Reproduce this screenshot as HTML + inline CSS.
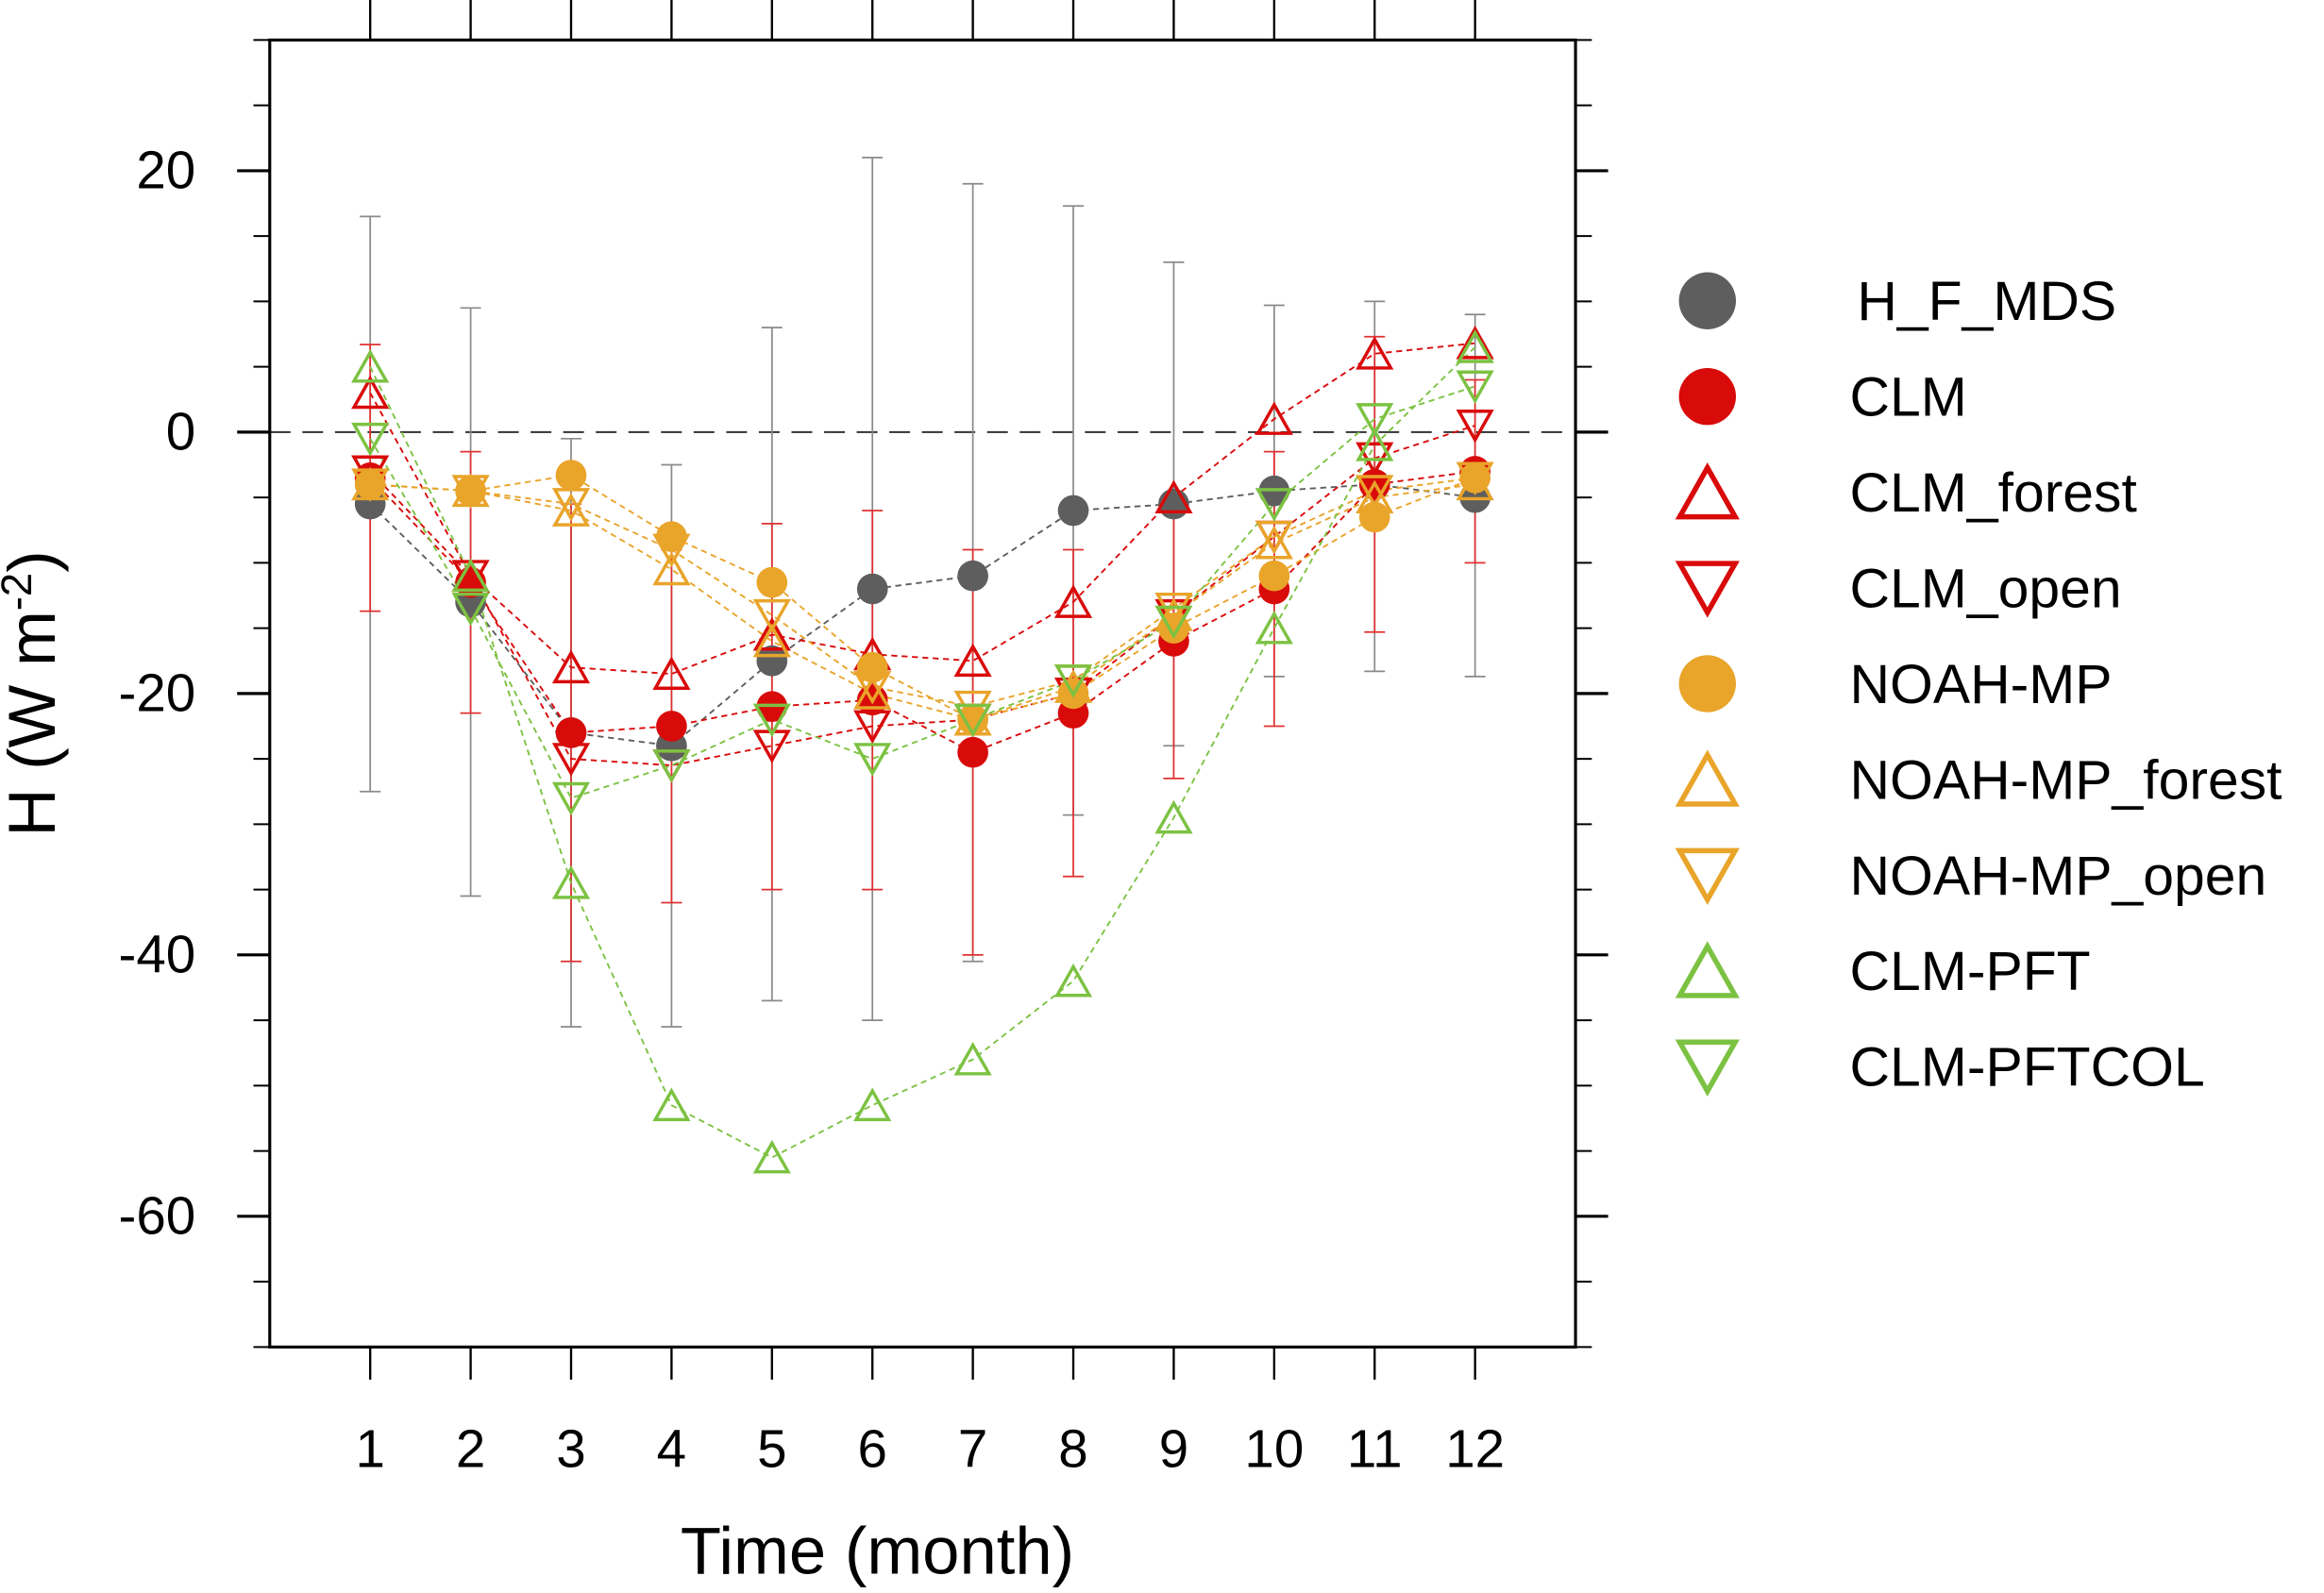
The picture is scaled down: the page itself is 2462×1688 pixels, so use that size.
<!DOCTYPE html>
<html><head><meta charset="utf-8">
<style>
html,body{margin:0;padding:0;background:#fff;}
svg{display:block;font-family:"Liberation Sans",sans-serif;}
</style></head>
<body>
<svg id="chart" width="2462" height="1688" viewBox="0 0 1568 1075" preserveAspectRatio="none" xmlns="http://www.w3.org/2000/svg">
<rect width="1568" height="1075" fill="#fff"/>
</svg>
<script>
const months = [1,2,3,4,5,6,7,8,9,10,11,12];
const yTicks = [20,0,-20,-40,-60];
const obsMean = [-5.5,-13,-23,-24,-17.5,-12,-11,-6,-5.5,-4.5,-4,-5];
const obsHi = [16.5,9.5,-0.5,-2.5,8,21,19,17.3,13,9.7,10,9];
const obsLo = [-27.5,-35.5,-45.5,-45.5,-43.5,-45,-40.5,-29.3,-24,-18.7,-18.3,-18.7];
const clm = [-3.5,-11.5,-23,-22.5,-21,-20.5,-24.5,-21.5,-16,-12,-4,-3];
const clmSd = [10.2,10,17.5,13.5,14,14.5,15.5,12.5,10.5,10.5,11.3,7];
const clmForest = [3,-11,-18,-18.5,-15.5,-17,-17.5,-13,-5,1,6,6.8];
const clmOpen = [-3,-11,-25,-25.5,-24,-22.5,-22,-20,-14,-8,-2,0.5];
const noah = [-4,-4.5,-3.3,-8,-11.5,-18,-22,-20,-15,-11,-6.5,-3.5];
const noahForest = [-4,-4.5,-6,-10.5,-16,-20,-22,-19.5,-14,-8.5,-5,-4];
const noahOpen = [-4,-4.5,-5.5,-9,-14,-19.5,-21,-19,-13.5,-8,-4.5,-3.5];
const pft = [5,-11,-34.5,-51.5,-55.5,-51.5,-48,-42,-29.5,-15,-1,6.5];
const pftcol = [-0.5,-13.5,-28,-25.5,-22,-25,-22,-19,-14.5,-5.5,1,3.5];

const L=182,R=1063,T=27,B=909,XMIN=0,XMAX=13,YMIN=-70,YMAX=30;
const sx=v=>L+(v-XMIN)/(XMAX-XMIN)*(R-L);
const sy=v=>T+(YMAX-v)/(YMAX-YMIN)*(B-T);
const svg=document.getElementById('chart');
const NS='http://www.w3.org/2000/svg';
function mk(tag,attrs,parent){const e=document.createElementNS(NS,tag);for(const k in attrs)e.setAttribute(k,attrs[k]);(parent||svg).appendChild(e);return e;}

const GRAY='#5e5e5e',RED='#d90a0a',ORANGE='#e9a42a',GREEN='#7cc242';

let z=mk('line',{x1:L,x2:R,y1:sy(0),y2:sy(0),stroke:'#333','stroke-width':1.3,'stroke-dasharray':'14 8'});



function errbar(x,hi,lo,color,name){
  const g=mk('g',{stroke:color,'stroke-width':1.1});
  
  
  mk('line',{x1:sx(x),x2:sx(x),y1:sy(hi),y2:sy(lo)},g);
  mk('line',{x1:sx(x)-7,x2:sx(x)+7,y1:sy(hi),y2:sy(hi)},g);
  mk('line',{x1:sx(x)-7,x2:sx(x)+7,y1:sy(lo),y2:sy(lo)},g);
}
months.forEach((m,i)=>errbar(m,obsHi[i],obsLo[i],'#8a8a8a','obs-error-bar'));
months.forEach((m,i)=>errbar(m,clm[i]+clmSd[i],clm[i]-clmSd[i],'#e03030','clm-error-bar'));

const series=[
 {name:'H_F_MDS',vals:obsMean,color:GRAY,shape:'dot'},
 {name:'CLM',vals:clm,color:RED,shape:'dot'},
 {name:'CLM_forest',vals:clmForest,color:RED,shape:'up'},
 {name:'CLM_open',vals:clmOpen,color:RED,shape:'down'},
 {name:'NOAH-MP',vals:noah,color:ORANGE,shape:'dot'},
 {name:'NOAH-MP_forest',vals:noahForest,color:ORANGE,shape:'up'},
 {name:'NOAH-MP_open',vals:noahOpen,color:ORANGE,shape:'down'},
 {name:'CLM-PFT',vals:pft,color:GREEN,shape:'up'},
 {name:'CLM-PFTCOL',vals:pftcol,color:GREEN,shape:'down'}
];
function marker(shape,x,y,s,color,parent,sw){
  if(shape==='dot') return mk('circle',{cx:x,cy:y,r:s*0.52,fill:color},parent);
  const w=s*0.52,h=s*0.46;
  const pts=shape==='up'?`${x},${y-h} ${x+w},${y+h} ${x-w},${y+h}`:`${x},${y+h} ${x+w},${y-h} ${x-w},${y-h}`;
  return mk('polygon',{points:pts,fill:'none',stroke:color,'stroke-width':sw},parent);
}
series.forEach(s=>{
  const key=s.name.toLowerCase().replace(/_/g,'-');
  const p=mk('polyline',{points:months.map((m,i)=>sx(m)+','+sy(s.vals[i])).join(' '),fill:'none',stroke:s.color,'stroke-width':1.2,'stroke-dasharray':'4 3'});
  
  
});
series.forEach(s=>{
  const key=s.name.toLowerCase().replace(/_/g,'-');
  const g=mk('g',{});
  
  
  months.forEach((m,i)=>{
    const e=marker(s.shape,sx(m),sy(s.vals[i]),s.shape==='dot'?20:21,s.color,g,2.2);
    
    
  });
});

const fr=mk('rect',{x:L,y:T,width:R-L,height:B-T,fill:'none',stroke:'#000','stroke-width':2});


const ax=mk('g',{stroke:'#000','stroke-width':1.5});


months.forEach(m=>{
  mk('line',{x1:sx(m),x2:sx(m),y1:B,y2:B+22},ax);
  mk('line',{x1:sx(m),x2:sx(m),y1:T,y2:T-27},ax);
});
for(let v=-70;v<=30;v+=5){
  const major=(v%20===0);
  const len=major?22:11;
  mk('line',{x1:L-len,x2:L,y1:sy(v),y2:sy(v),'stroke-width':major?2:1.3},ax);
  mk('line',{x1:R,x2:R+len,y1:sy(v),y2:sy(v),'stroke-width':major?2:1.3},ax);
}
yTicks.forEach(v=>{
  const t=mk('text',{x:132,y:sy(v)+12,'text-anchor':'end','font-size':36,fill:'#000'});
  t.textContent=v;
  
  
});
months.forEach(m=>{
  const t=mk('text',{x:sx(m),y:990,'text-anchor':'middle','font-size':36,fill:'#000'});
  t.textContent=m;
  
  
});
const xt=mk('text',{x:592,y:1062,'text-anchor':'middle','font-size':45,fill:'#000'});
xt.textContent='Time (month)';


const yt=mk('text',{x:0,y:0,'text-anchor':'middle','font-size':45,fill:'#000',transform:'translate(37,468) rotate(-90)'});
yt.innerHTML='H (W m<tspan dy="-16" font-size="29">-2</tspan><tspan dy="16">)</tspan>';



const lg=mk('g',{});


series.forEach((s,i)=>{
  const y=203+i*64.6;
  const g=mk('g',{},lg);
  
  
  marker(s.shape,1152,y,s.shape==='dot'?37:36,s.color,g,3.5);
  const t=mk('text',{x:i===0?1253:1248,y:y+13,'font-size':37.5,fill:'#000'},g);
  t.textContent=s.name;
});
</script>
</body></html>
